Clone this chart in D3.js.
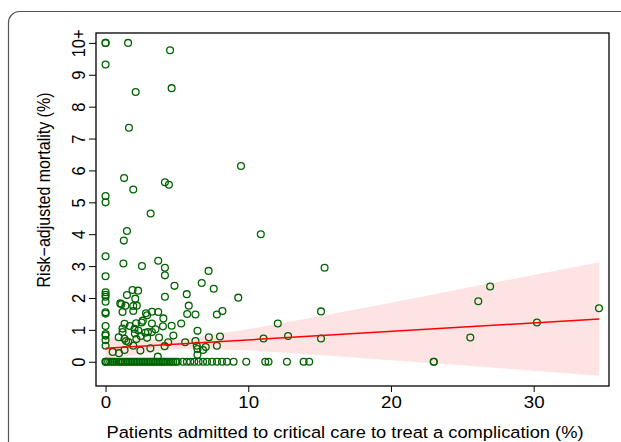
<!DOCTYPE html>
<html>
<head>
<meta charset="utf-8">
<script src="https://cdn.jsdelivr.net/npm/d3@7"></script>
<style>
  body { margin: 0; background: #fff; }
  text { font-family: "Liberation Sans", Arial, sans-serif; fill: #000; }
</style>
</head>
<body>
<svg id="chart" width="621" height="442"></svg>
<script>
// hospitals with at least one death: [admitted %, risk-adjusted mortality %]
var withDeaths = [
  [0, 10], [0, 10], [1.58, 10], [4.52, 9.77], [0, 9.32], [4.63, 8.58], [2.11, 8.46],
  [1.64, 7.34], [9.49, 6.14], [1.30, 5.76], [1.94, 5.40], [4.16, 5.63], [4.44, 5.55],
  [0, 5.20], [0, 5.0], [3.16, 4.65], [10.88, 4.0], [1.50, 4.10], [1.28, 3.80],
  [0, 3.31], [1.25, 3.08], [2.55, 3.0], [3.69, 3.17], [4.16, 2.95], [4.16, 2.71],
  [7.22, 2.85], [15.35, 2.95], [0, 2.68], [6.74, 2.47], [7.58, 2.29], [4.83, 2.38],
  [26.95, 2.36], [26.12, 1.90], [34.58, 1.68], [9.30, 2.01], [5.69, 2.12], [4.16, 2.04],
  [1.89, 2.25], [2.28, 2.23], [1.50, 2.09], [2.08, 1.98],
  [0, 2.18], [0, 2.10], [0, 2.04], [0, 1.88],
  [1.03, 1.83], [1.11, 1.80], [1.39, 1.76], [2.19, 1.76], [1.94, 1.75],
  [1.19, 1.56], [1.94, 1.59], [0, 1.55], [0, 1.51],
  [5.83, 1.76], [5.72, 1.50], [6.30, 1.48], [15.10, 1.58], [8.19, 1.59], [7.80, 1.48],
  [3.69, 1.56], [3.25, 1.57], [2.83, 1.52], [2.91, 1.46], [4.05, 1.36],
  [2.61, 1.29], [2.53, 1.23], [2.14, 1.21], [3.25, 1.20], [1.33, 1.19], [5.30, 1.20],
  [4.63, 1.13], [4.02, 1.11], [0, 1.12], [12.07, 1.20], [30.23, 1.23],
  [6.44, 0.97], [1.19, 1.04], [1.19, 0.93], [2.03, 1.03], [2.05, 0.89],
  [2.78, 0.91], [2.97, 0.93], [3.25, 0.93], [2.47, 0.81], [0, 0.87], [0, 0.82],
  [0.92, 0.77], [4.75, 0.82], [2.91, 0.75], [3.75, 0.76], [1.33, 0.72], [1.44, 0.65],
  [2.16, 0.71], [7.24, 0.77], [8.02, 0.79], [12.79, 0.81], [11.07, 0.73], [15.10, 0.73],
  [25.56, 0.76], [0, 0.68], [0, 0.50], [5.58, 0.61], [6.30, 0.65], [4.39, 0.61],
  [1.94, 0.50], [4.14, 0.49], [3.14, 0.42], [6.39, 0.50], [6.44, 0.40], [7.02, 0.46],
  [6.83, 0.37], [7.80, 0.50], [2.44, 0.35], [0.50, 0.31], [1.33, 0.37], [0.94, 0.27],
  [3.66, 0.16], [6.44, 0.22], [1.6, 0.62], [2.3, 0.98], [3.5, 1.02], [1.7, 1.12]
];

// hospitals with no deaths (mortality 0): admitted %
var noDeaths = [
  0, 0, 0.05, 0.18, 0.33, 0.47, 0.6, 0.74, 0.88, 1.0, 1.12, 1.22, 1.35, 1.47, 1.58,
  1.7, 1.81, 1.92, 2.03, 2.15, 2.26, 2.38, 2.5, 2.61, 2.72, 2.85, 2.96, 3.08, 3.2,
  3.31, 3.43, 3.55, 3.66, 3.78, 3.9, 4.01, 4.12, 4.25, 4.37, 4.5, 4.62, 4.75, 4.9,
  5.05, 5.42, 5.70, 5.94, 6.22, 6.52, 6.83, 7.11, 7.46, 7.81, 8.16, 8.51, 8.97,
  9.86, 11.19, 11.42, 12.71, 13.88, 14.27, 23.0, 23.0
];

// fitted regression line and its confidence band
var fitX = [0, 34.6];
var fitY = [0.42, 1.34];
var bandX = [0, 5, 10, 15, 20, 25, 30, 34.6];
var bandUpper = [0.75, 0.69, 1.02, 1.43, 1.85, 2.29, 2.72, 3.12];
var bandLower = [0.09, 0.41, 0.36, 0.21, 0.05, -0.11, -0.28, -0.44];

var xTicks = [0, 10, 20, 30];
var yTicks = [0, 1, 2, 3, 4, 5, 6, 7, 8, 9, 10];
var yTickLabels = ["0", "1", "2", "3", "4", "5", "6", "7", "8", "9", "10+"];

var margin = { top: 33, right: 12, bottom: 56, left: 96 },
    width = 621 - margin.left - margin.right,
    height = 442 - margin.top - margin.bottom;

var svg = d3.select('#chart');

// outer rounded frame
svg.append('rect')
    .attr('x', 8.5).attr('y', 11.5)
    .attr('width', 640).attr('height', 460)
    .attr('rx', 11).attr('ry', 11)
    .attr('fill', 'none')
    .attr('stroke', '#555')
    .attr('stroke-width', 1.2);

var g = svg.append('g')
    .attr('transform', 'translate(' + margin.left + ',' + margin.top + ')');

var x = d3.scaleLinear().domain([-0.67, 35.28]).range([0, width]);
var y = d3.scaleLinear().domain([-0.76, 10.31]).range([height, 0]);

var band = bandX.map(function(d, i) { return { x: d, lo: bandLower[i], hi: bandUpper[i] }; });

g.append('path')
    .datum(band)
    .attr('fill', '#fde3e3')
    .attr('d', d3.area()
        .x(d => x(d.x))
        .y0(d => y(d.lo))
        .y1(d => y(d.hi)));

var pts = withDeaths.map(d => ({ x: d[0], y: d[1] }))
    .concat(noDeaths.map(d => ({ x: d, y: 0 })));

g.selectAll('.pt')
    .data(pts)
    .enter()
    .append('circle')
    .attr('class', 'pt')
    .attr('cx', d => x(d.x))
    .attr('cy', d => y(d.y))
    .attr('r', 3.4)
    .attr('fill', 'none')
    .attr('stroke', '#006400')
    .attr('stroke-width', 1.3);

g.append('path')
    .datum(fitX.map((d, i) => ({ x: d, y: fitY[i] })))
    .attr('fill', 'none')
    .attr('stroke', '#ff0000')
    .attr('stroke-width', 1.5)
    .attr('d', d3.line().x(d => x(d.x)).y(d => y(d.y)));

// plot box
g.append('rect')
    .attr('x', 0).attr('y', 0)
    .attr('width', width).attr('height', height)
    .attr('fill', 'none')
    .attr('stroke', '#000')
    .attr('stroke-width', 1.3);

var xAxis = d3.axisBottom(x).tickValues(xTicks).tickSize(6).tickPadding(4);
var xAxisG = g.append('g')
    .attr('transform', 'translate(0,' + height + ')')
    .call(xAxis);
xAxisG.select('.domain').remove();
xAxisG.selectAll('text')
    .style('font-size', '17px')
    .attr('transform', 'scale(1.1,1)');

var yAxis = d3.axisLeft(y).tickValues(yTicks)
    .tickFormat((d, i) => yTickLabels[i]).tickSize(7);
var yAxisG = g.append('g').call(yAxis);
yAxisG.select('.domain').remove();
yAxisG.selectAll('text')
    .style('font-size', '16.5px')
    .attr('x', 0).attr('dy', null)
    .attr('text-anchor', 'middle')
    .attr('transform', 'translate(-17,0) rotate(-90) scale(1,1.1)')
    .attr('dominant-baseline', 'central');

g.append('text')
    .attr('transform', 'translate(249,404.5) scale(1.11,1)')
    .attr('text-anchor', 'middle')
    .style('font-size', '16.5px')
    .text('Patients admitted to critical care to treat a complication (%)');

g.append('text')
    .attr('transform', 'translate(-52,157) rotate(-90) scale(1,1.1)')
    .attr('text-anchor', 'middle')
    .attr('dominant-baseline', 'central')
    .style('font-size', '16px')
    .text('Risk\u2212adjusted mortality (%)');
</script>
</body>
</html>
